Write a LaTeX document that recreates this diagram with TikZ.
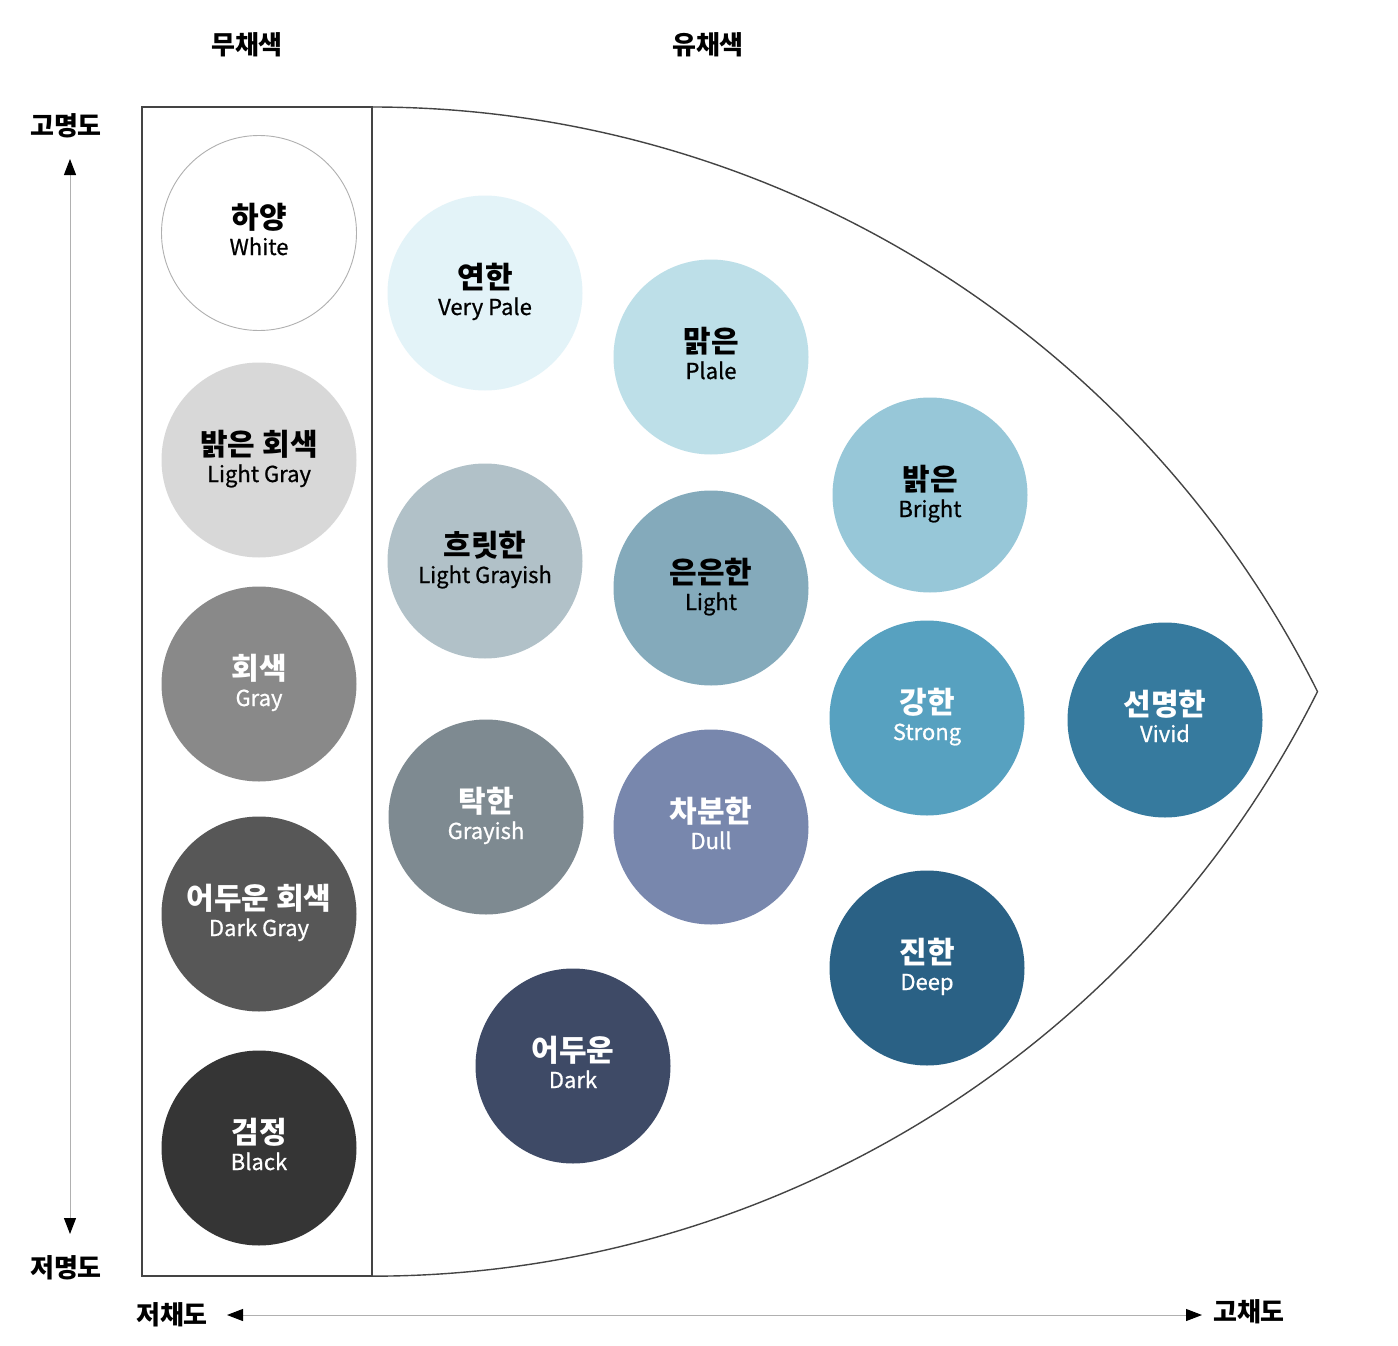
\documentclass[tikz,border=0pt]{standalone}
\usepackage{fontspec}
\setmainfont{Noto Sans CJK KR}
\newfontfamily\engfont[FakeBold=0.8]{Noto Sans CJK KR}
\usetikzlibrary{arrows.meta}
\definecolor{cWhite}{HTML}{FFFFFF}
\definecolor{cLGray}{HTML}{D8D8D8}
\definecolor{cGray}{HTML}{898989}
\definecolor{cDGray}{HTML}{575757}
\definecolor{cBlack}{HTML}{353535}
\definecolor{cVPale}{HTML}{E3F3F8}
\definecolor{cPale}{HTML}{BDDFE8}
\definecolor{cBright}{HTML}{97C7D8}
\definecolor{cLGrayish}{HTML}{B1C1C8}
\definecolor{cLight}{HTML}{84AABB}
\definecolor{cStrong}{HTML}{57A1C0}
\definecolor{cVivid}{HTML}{367A9E}
\definecolor{cGrayish}{HTML}{7E8A91}
\definecolor{cDull}{HTML}{7887AD}
\definecolor{cDeep}{HTML}{2A6185}
\definecolor{cDark}{HTML}{3E4A66}
\definecolor{frameline}{HTML}{444444}
\definecolor{axisline}{HTML}{B0B0B0}
\tikzset{
  disc/.style={circle, minimum size=195pt, inner sep=0pt, draw=none},
  kor/.style={font=\fontsize{30}{32}\selectfont\bfseries, inner sep=0pt, anchor=base},
  eng/.style={font=\fontsize{22}{24}\selectfont\engfont, inner sep=0pt, anchor=base},
  axislabel/.style={font=\fontsize{26}{28}\selectfont\bfseries, inner sep=0pt},
  frame/.style={draw=frameline, line width=1.4pt},
  axis/.style={draw=axisline, line width=1pt, {Triangle[length=16pt,width=12pt,color=black]}-{Triangle[length=16pt,width=12pt,color=black]}},
}
\newcommand\colordisc[7]{%
  \node[disc, fill=#4] (#1) at (#2,-#3) {};
  \node[kor, text=#5] (#1-k) at ([yshift=5pt]#1.center) {#6};
  \node[eng, text=#5] (#1-e) at ([yshift=-22pt]#1.center) {#7};
}
\begin{document}
\begin{tikzpicture}[x=1pt,y=1pt]
\useasboundingbox[fill=white] (0,0) rectangle (1398,-1346);
% frames
\draw[frame] (142,-107) rectangle (372,-1276);
\draw[frame] (372,-107) arc[start angle=90, end angle=26.55, radius=1057]
  arc[start angle=-26.55, end angle=-90, radius=1057];
% achromatic
\colordisc{white}{259}{233}{cWhite}{black}{하양}{White}
\draw[draw=axisline, line width=0.9pt] (white) circle[radius=97.5pt];
\colordisc{lgray}{259}{460}{cLGray}{black}{밝은 회색}{Light Gray}
\colordisc{gray}{259}{684}{cGray}{white}{회색}{Gray}
\colordisc{dgray}{259}{914}{cDGray}{white}{어두운 회색}{Dark Gray}
\colordisc{black}{259}{1148}{cBlack}{white}{검정}{Black}
% chromatic
\colordisc{vpale}{485}{293}{cVPale}{black}{연한}{Very Pale}
\colordisc{pale}{711}{357}{cPale}{black}{맑은}{Plale}
\colordisc{bright}{930}{495}{cBright}{black}{밝은}{Bright}
\colordisc{lgrayish}{485}{561}{cLGrayish}{black}{흐릿한}{Light Grayish}
\colordisc{light}{711}{588}{cLight}{black}{은은한}{Light}
\colordisc{strong}{927}{718}{cStrong}{white}{강한}{Strong}
\colordisc{vivid}{1165}{720}{cVivid}{white}{선명한}{Vivid}
\colordisc{grayish}{486}{817}{cGrayish}{white}{탁한}{Grayish}
\colordisc{dull}{711}{827}{cDull}{white}{차분한}{Dull}
\colordisc{deep}{927}{968}{cDeep}{white}{진한}{Deep}
\colordisc{dark}{573}{1066}{cDark}{white}{어두운}{Dark}
% headings
\node[axislabel] (achro) at (247,-45) {무채색};
\node[axislabel] (chro) at (708,-45) {유채색};
\node[axislabel] (hival) at (66,-126) {고명도};
\node[axislabel] (loval) at (66,-1268) {저명도};
\node[axislabel] (losat) at (172,-1315) {저채도};
\node[axislabel] (hisat) at (1249,-1312) {고채도};
% axes
\coordinate (vtop) at (70,-159);
\coordinate (vbot) at (70,-1234);
\coordinate (hl) at (227,-1315);
\coordinate (hr) at (1202,-1315);
\draw[axis] (vbot) -- (vtop);
\draw[axis] (hl) -- (hr);
\end{tikzpicture}
\end{document}
